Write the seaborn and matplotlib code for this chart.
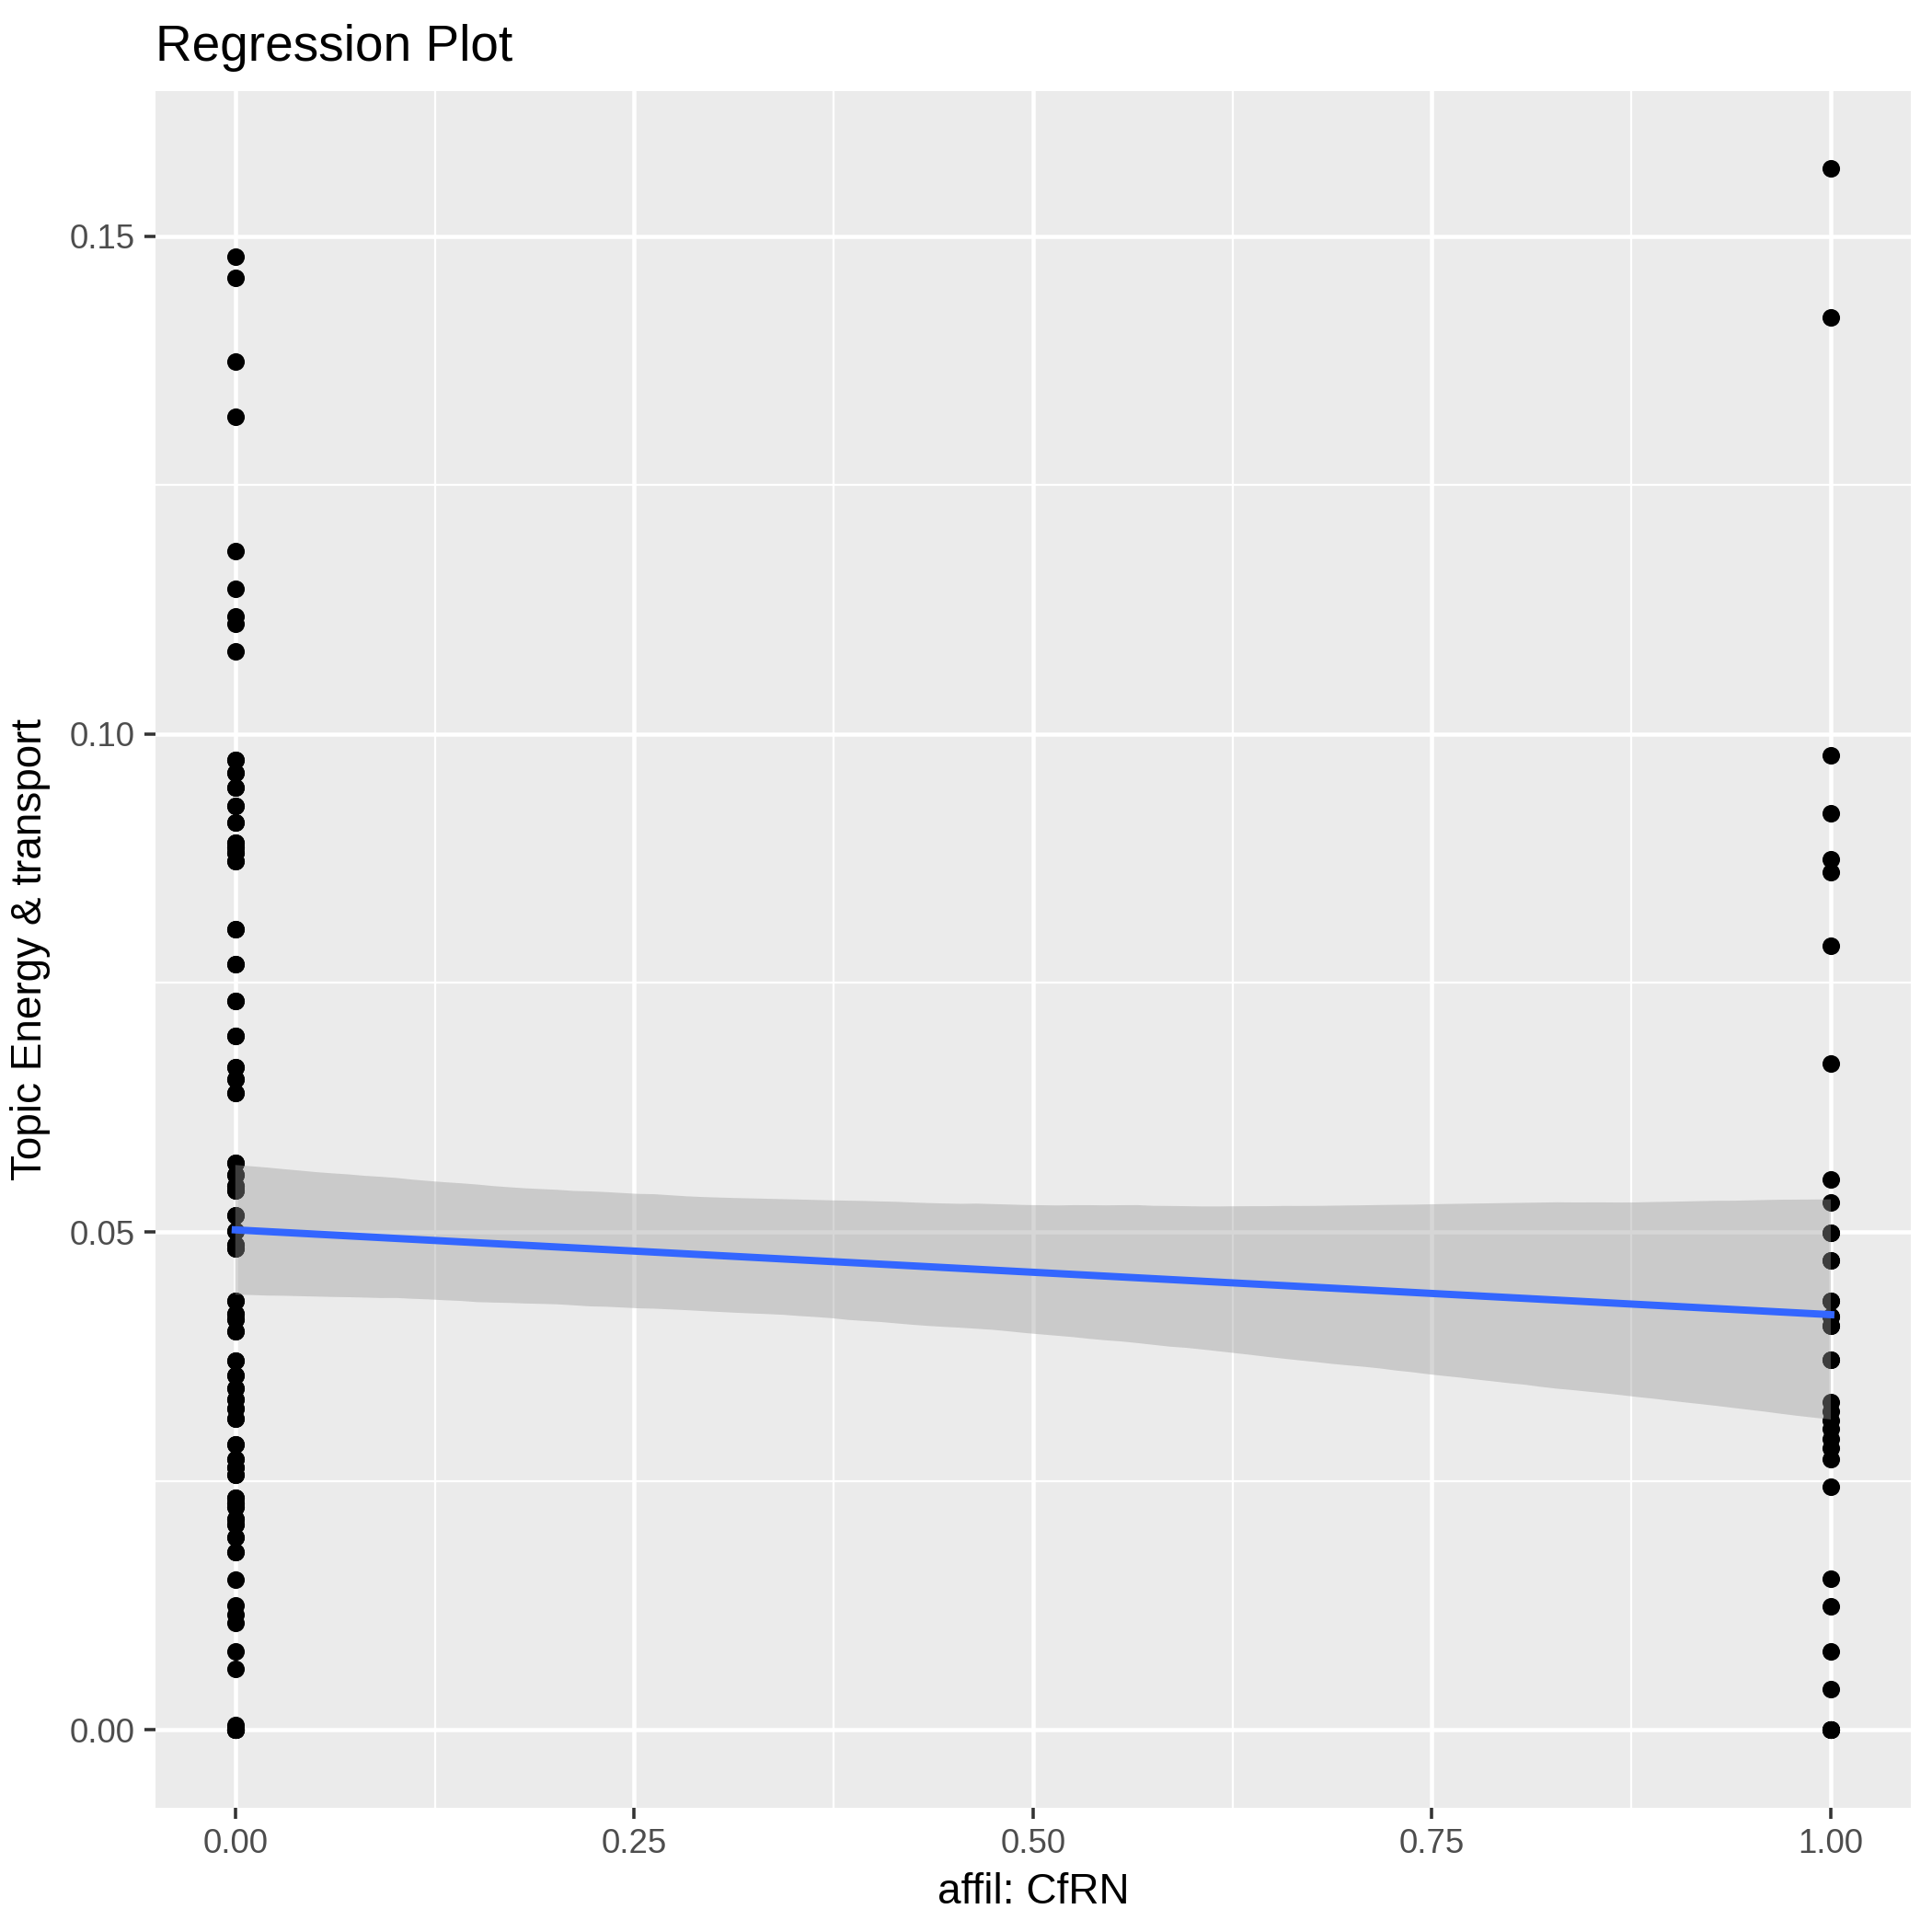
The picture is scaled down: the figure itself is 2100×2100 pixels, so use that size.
import numpy as np
import pandas as pd
import matplotlib
matplotlib.use("Agg")
import matplotlib.pyplot as plt
from matplotlib.ticker import FixedLocator, FormatStrFormatter
from matplotlib.collections import PolyCollection
import seaborn as sns

# ---- data (overlapping points repeated where blobs are dense) ----
group0_values = [
    0.1479, 0.1458, 0.1374, 0.1319, 0.1184, 0.1146, 0.1118, 0.1111, 0.1083,
    0.0974, 0.0961, 0.0946, 0.0928, 0.0911, 0.0891, 0.0886, 0.0881, 0.0872,
    0.0804, 0.0769, 0.0732, 0.0697, 0.0665, 0.0653, 0.0640,
    0.0569, 0.0557, 0.0546, 0.0542, 0.0517, 0.0501, 0.0487, 0.0483,
    0.0431, 0.0418, 0.0412, 0.0400, 0.0371, 0.0356, 0.0343, 0.0332, 0.0323, 0.0313,
    0.0287, 0.0272, 0.0264, 0.0256, 0.0233, 0.0228, 0.0224, 0.0212, 0.0206, 0.0193, 0.0179,
    0.0151, 0.0125, 0.0116, 0.0107, 0.0079, 0.0061, 0.0005, 0.0002,
    0.0, 0.0, 0.0, 0.0, 0.0, 0.0, 0.0, 0.0, 0.0, 0.0, 0.0,
    # hidden overlaps inside the dense blobs
    0.0974, 0.0961, 0.0946, 0.0928, 0.0911, 0.0891, 0.0886, 0.0881, 0.0872,
    0.0804, 0.0769, 0.0732, 0.0697, 0.0665, 0.0653, 0.0640,
    0.0569, 0.0557, 0.0546, 0.0542, 0.0517, 0.0501, 0.0487, 0.0483,
    0.0431, 0.0418, 0.0412, 0.0400, 0.0371, 0.0356, 0.0343, 0.0332, 0.0323, 0.0313,
    0.0287, 0.0272, 0.0264, 0.0256, 0.0233, 0.0228, 0.0224, 0.0212, 0.0206, 0.0193, 0.0179,
]
group1_values = [
    0.1568, 0.1418, 0.0979, 0.0920, 0.0874, 0.0861, 0.0787, 0.0669,
    0.0553, 0.0530, 0.0499, 0.0471, 0.0431, 0.0415, 0.0406, 0.0372,
    0.0329, 0.0320, 0.0311, 0.0302, 0.0292, 0.0283, 0.0272, 0.0244,
    0.0152, 0.0124, 0.0079, 0.0041,
    0.0, 0.0, 0.0, 0.0, 0.0, 0.0, 0.0,
    # hidden overlaps
    0.0499, 0.0471, 0.0431, 0.0415, 0.0406, 0.0372,
]
x_ticks = [0.00, 0.25, 0.50, 0.75, 1.00]
y_ticks = [0.00, 0.05, 0.10, 0.15]
title = "Regression Plot"
x_label = "affil: CfRN"
y_label = "Topic Energy & transport"

df = pd.DataFrame({
    "affil": [0.0] * len(group0_values) + [1.0] * len(group1_values),
    "topic": group0_values + group1_values,
})

plt.rcParams["font.family"] = ["Liberation Sans", "DejaVu Sans"]

fig = plt.figure(figsize=(7, 7), dpi=300)
ax = fig.add_axes([0.0805, 0.0643, 0.9084, 0.8886])
ax.set_facecolor("#EBEBEB")

sns.regplot(
    data=df, x="affil", y="topic", ax=ax, ci=95, n_boot=4000, seed=3,
    scatter_kws=dict(color="black", s=21, linewidths=0, alpha=1, zorder=2),
    line_kws=dict(color="#3366FF", linewidth=1.9, zorder=4),
)
for coll in ax.collections:
    if isinstance(coll, PolyCollection):
        coll.set_facecolor((0.6, 0.6, 0.6))
        coll.set_alpha(0.4)
        coll.set_edgecolor("none")
        coll.set_zorder(3)

ax.set_xlim(-0.05, 1.05)
ax.set_ylim(-0.00782, 0.16457)

ax.xaxis.set_major_locator(FixedLocator(x_ticks))
ax.yaxis.set_major_locator(FixedLocator(y_ticks))
ax.xaxis.set_minor_locator(FixedLocator([0.125, 0.375, 0.625, 0.875]))
ax.yaxis.set_minor_locator(FixedLocator([0.025, 0.075, 0.125]))
ax.xaxis.set_major_formatter(FormatStrFormatter("%.2f"))
ax.yaxis.set_major_formatter(FormatStrFormatter("%.2f"))

ax.grid(which="major", color="white", linewidth=1.1, zorder=0)
ax.grid(which="minor", color="white", linewidth=0.55, zorder=0)
ax.set_axisbelow(True)
for s in ax.spines.values():
    s.set_visible(False)

ax.tick_params(which="major", length=2.8, width=0.85, color="#333333",
               labelcolor="#4D4D4D", labelsize=8.8, pad=2.5)
ax.tick_params(which="minor", length=0)

ax.set_xlabel(x_label, fontsize=11, color="black", labelpad=3)
ax.set_ylabel(y_label, fontsize=11, color="black", labelpad=5)
ax.set_title(title, loc="left", fontsize=13.2, color="black", pad=8)

fig.savefig("out.png", dpi=300)
